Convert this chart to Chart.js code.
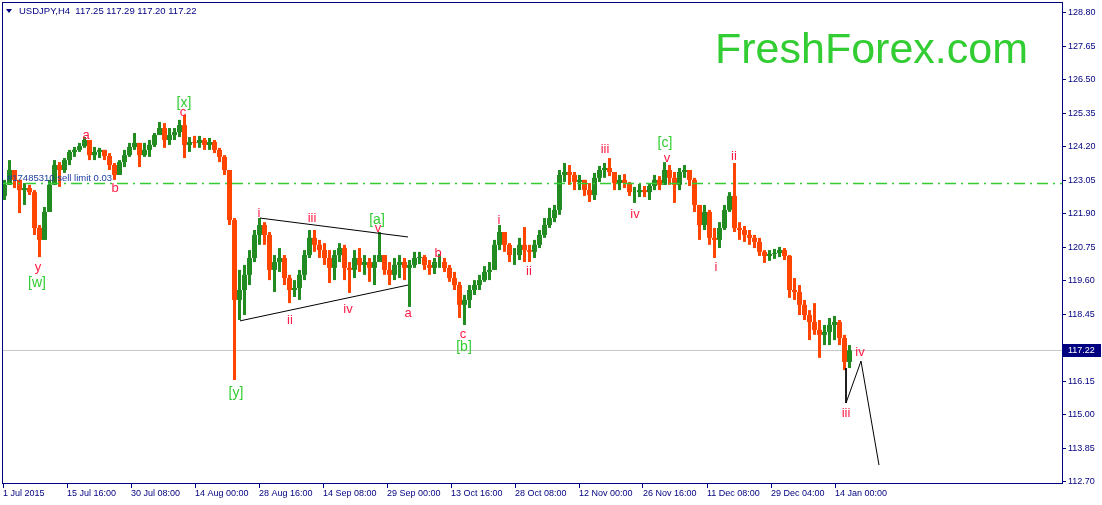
<!DOCTYPE html>
<html>
<head>
<meta charset="utf-8">
<title>USDJPY H4</title>
<script src="https://cdn.jsdelivr.net/npm/chart.js@4.4.1/dist/chart.umd.min.js"></script>
<style>
  html, body { margin: 0; padding: 0; background: #fff; overflow: hidden; }
  canvas { display: block; }
</style>
</head>
<body>
<canvas id="chart" width="1102" height="505"></canvas>
<script>
const NAVY = "#000080";
const UP = "#228B22";
const DOWN = "#FF4500";
const FONT = "'Liberation Sans', Arial, sans-serif";

// one candle = 5 H4 bars
const firstOpen = 122.52;
const highs = [
  123.07, 123.75, 123.31, 123.07, 122.96, 122.90, 122.72, 121.52, 122.14, 123.07,
  123.75, 123.68, 123.82, 124.10, 124.20, 124.34, 124.54, 124.44, 124.20, 124.17,
  124.10, 123.99, 123.65, 123.75, 124.10, 124.34, 124.68, 124.27, 124.34, 124.44,
  124.68, 125.06, 125.02, 124.85, 124.85, 125.13, 125.30, 124.54, 124.58, 124.58,
  124.51, 124.51, 124.44, 124.17, 123.92, 123.34, 121.76, 119.98, 120.15, 120.66,
  121.35, 121.76, 121.62, 121.28, 120.49, 120.73, 120.49, 119.81, 119.63, 119.98,
  120.66, 121.35, 121.35, 121.01, 120.90, 120.66, 120.66, 120.90, 120.84, 120.25,
  120.66, 120.73, 120.49, 120.39, 120.49, 121.28, 120.49, 120.25, 120.39, 120.49,
  120.39, 120.32, 120.60, 120.60, 120.49, 120.32, 120.39, 120.53, 120.39, 120.15,
  119.91, 119.57, 119.12, 119.46, 119.63, 119.81, 120.11, 120.25, 121.01, 121.52,
  121.28, 120.90, 120.73, 121.08, 121.45, 120.84, 121.01, 121.35, 121.76, 122.11,
  122.21, 123.41, 123.65, 123.58, 123.34, 123.24, 123.07, 122.96, 123.31, 123.55,
  123.65, 123.82, 123.34, 123.24, 123.27, 123.00, 122.83, 122.93, 122.86, 122.93,
  123.24, 123.20, 123.68, 123.58, 123.34, 123.48, 123.58, 123.41, 123.14, 122.21,
  122.21, 122.04, 121.42, 121.62, 122.21, 122.65, 123.65, 121.62, 121.49, 121.35,
  121.18, 121.08, 120.66, 120.66, 120.70, 120.77, 120.73, 120.49, 119.70, 119.46,
  118.95, 118.60, 118.84, 118.26, 118.09, 118.33, 118.40, 118.26, 117.75, 117.40
];
const lows = [
  122.38, 122.90, 122.79, 121.93, 122.21, 122.55, 121.18, 120.42, 121.01, 121.97,
  123.00, 122.83, 123.31, 123.58, 123.86, 124.03, 124.17, 123.75, 123.75, 123.82,
  123.75, 123.41, 123.07, 123.34, 123.51, 123.86, 124.10, 123.51, 123.86, 123.86,
  124.20, 124.61, 124.17, 124.27, 124.44, 124.54, 123.82, 124.03, 124.17, 124.17,
  124.10, 124.10, 123.99, 123.68, 123.24, 121.52, 116.20, 118.26, 118.43, 119.46,
  120.25, 120.84, 120.84, 119.63, 119.22, 119.91, 119.46, 118.84, 119.05, 118.95,
  119.63, 120.39, 120.60, 120.39, 120.15, 119.53, 119.63, 120.25, 119.63, 119.19,
  119.70, 119.91, 119.81, 119.57, 119.46, 120.25, 119.81, 119.46, 119.63, 119.70,
  119.63, 118.71, 120.05, 120.18, 119.98, 119.81, 119.84, 120.05, 119.91, 119.57,
  119.29, 118.33, 118.09, 118.67, 119.12, 119.29, 119.57, 119.63, 119.98, 120.66,
  120.60, 120.25, 120.15, 120.32, 120.25, 120.25, 120.39, 120.73, 121.08, 121.42,
  121.62, 121.87, 123.00, 122.90, 122.72, 122.72, 122.52, 122.31, 122.38, 123.00,
  123.14, 123.20, 122.72, 122.72, 122.79, 122.52, 122.28, 122.48, 122.48, 122.38,
  122.72, 122.72, 122.90, 122.90, 122.28, 122.72, 123.14, 122.86, 121.97, 121.01,
  121.35, 120.84, 120.39, 120.73, 121.35, 121.97, 121.28, 121.01, 120.94, 120.84,
  120.73, 120.46, 120.22, 120.29, 120.36, 120.42, 120.32, 119.02, 118.95, 118.43,
  118.26, 117.57, 117.75, 116.96, 117.40, 117.40, 117.57, 117.40, 116.54, 116.61
];
const closes = [
  122.90, 123.41, 123.07, 122.72, 122.79, 122.65, 121.42, 121.01, 121.97, 122.90,
  123.58, 123.41, 123.75, 124.03, 124.10, 124.23, 124.44, 123.92, 124.03, 124.10,
  123.89, 123.58, 123.24, 123.68, 123.92, 124.20, 124.34, 123.92, 124.10, 124.27,
  124.61, 124.85, 124.44, 124.61, 124.71, 124.95, 124.27, 124.37, 124.34, 124.44,
  124.27, 124.37, 124.10, 123.86, 123.41, 121.69, 118.95, 119.29, 119.81, 120.39,
  121.18, 121.52, 121.18, 119.98, 120.25, 120.39, 119.70, 119.29, 119.36, 119.81,
  120.49, 121.08, 120.84, 120.66, 120.39, 120.05, 120.49, 120.73, 120.05, 119.98,
  120.39, 120.15, 120.25, 120.05, 120.25, 120.49, 119.98, 119.81, 120.15, 120.25,
  120.05, 120.15, 120.39, 120.42, 120.15, 120.05, 120.25, 120.25, 120.05, 119.70,
  119.46, 118.78, 118.95, 119.29, 119.46, 119.63, 119.91, 119.98, 120.84, 121.28,
  120.84, 120.49, 120.49, 120.84, 120.66, 120.60, 120.84, 121.18, 121.52, 121.76,
  122.04, 123.24, 123.34, 123.24, 123.00, 123.07, 122.72, 122.55, 123.14, 123.41,
  123.48, 123.34, 122.96, 123.07, 122.96, 122.65, 122.65, 122.72, 122.65, 122.86,
  123.07, 122.90, 123.41, 123.14, 122.90, 123.34, 123.41, 123.07, 122.21, 121.52,
  121.97, 121.08, 121.01, 121.42, 122.04, 122.52, 121.42, 121.35, 121.18, 121.08,
  120.94, 120.60, 120.46, 120.53, 120.56, 120.66, 120.46, 119.29, 119.22, 118.78,
  118.43, 118.19, 117.92, 117.75, 117.85, 118.09, 118.19, 117.64, 116.82, 117.22
];

const lastPrice = 117.22;
const sellLimit = 122.98;
const quote = "USDJPY,H4  117.25 117.29 117.20 117.22";

const timeLabels = ["1 Jul 2015", "15 Jul 16:00", "30 Jul 08:00", "14 Aug 00:00", "28 Aug 16:00",
  "14 Sep 08:00", "29 Sep 00:00", "13 Oct 16:00", "28 Oct 08:00", "12 Nov 00:00",
  "26 Nov 16:00", "11 Dec 08:00", "29 Dec 04:00", "14 Jan 00:00"];
const priceTicks = [128.80, 127.65, 126.50, 125.35, 124.20, 123.05, 121.90, 120.75,
  119.60, 118.45, 116.15, 115.00, 113.85, 112.70];

// wave marks: candle index and price
const waveLabels = [
  {text: "y", at: 6.7, price: 120.05},
  {text: "[w]", at: 6.5, price: 119.53, major: true},
  {text: "a", at: 16.3, price: 124.58},
  {text: "b", at: 22.1, price: 122.76},
  {text: "[x]", at: 35.9, price: 125.71, major: true},
  {text: "c", at: 35.7, price: 125.37},
  {text: "[y]", at: 46.3, price: 115.75, major: true},
  {text: "i", at: 50.9, price: 121.93},
  {text: "ii", at: 57.1, price: 118.26},
  {text: "iii", at: 61.5, price: 121.76},
  {text: "iv", at: 68.7, price: 118.64},
  {text: "[a]", at: 74.5, price: 121.69, major: true},
  {text: "v", at: 74.7, price: 121.39},
  {text: "a", at: 80.7, price: 118.47},
  {text: "b", at: 86.7, price: 120.53},
  {text: "c", at: 91.7, price: 117.78},
  {text: "[b]", at: 91.9, price: 117.33, major: true},
  {text: "i", at: 98.9, price: 121.69},
  {text: "ii", at: 104.9, price: 119.94},
  {text: "iii", at: 120.1, price: 124.10},
  {text: "iv", at: 126.1, price: 121.87},
  {text: "[c]", at: 132.1, price: 124.34, major: true},
  {text: "v", at: 132.5, price: 123.82},
  {text: "i", at: 142.3, price: 120.05},
  {text: "ii", at: 145.9, price: 123.89},
  {text: "iii", at: 168.3, price: 115.07},
  {text: "iv", at: 171.1, price: 117.13}
];

const triangleTop = [{x: 51.1, y: 121.76}, {x: 80.7, y: 121.11}];
const triangleBottom = [{x: 47.1, y: 118.23}, {x: 80.7, y: 119.46}];
const forecast = [{x: 168.3, y: 116.61}, {x: 168.3, y: 115.41}, {x: 171.3, y: 116.85}, {x: 174.9, y: 113.28}];

const opens = closes.map((c, i) => i === 0 ? firstOpen : closes[i - 1]);
const barsPerLabel = 64 / 5;
const timeTicks = timeLabels.map((_, k) => -0.3 + k * barsPerLabel);

function candleColor(ctx) {
  const i = ctx.dataIndex;
  if (i === undefined) return UP;
  return closes[i] >= opens[i] ? UP : DOWN;
}

const wicks = closes.map((c, i) => ({x: i, y: [Math.min(lows[i], opens[i], c), Math.max(highs[i], opens[i], c)]}));
const bodies = closes.map((c, i) => ({x: i, y: [opens[i], c]}));

function lineSet(data) {
  return {type: "line", data, borderColor: "#000", borderWidth: 1, pointRadius: 0, fill: false, tension: 0, order: 0};
}

const overlay = {
  id: "overlay",
  beforeDatasetsDraw(chart) {
    const {ctx, chartArea: a, scales: {y}} = chart;
    ctx.save();
    const py = Math.round(y.getPixelForValue(lastPrice)) + 0.5;
    ctx.strokeStyle = "#c8c8c8";
    ctx.lineWidth = 1;
    ctx.beginPath();
    ctx.moveTo(a.left, py);
    ctx.lineTo(a.right, py);
    ctx.stroke();
    ctx.restore();
  },
  afterDatasetsDraw(chart) {
    const {ctx, chartArea: a, scales: {x, y}} = chart;
    ctx.save();
    // pending order line
    const sy = Math.round(y.getPixelForValue(sellLimit)) + 0.5;
    ctx.strokeStyle = "#33CC33";
    ctx.lineWidth = 1.3;
    ctx.setLineDash([11, 5, 2, 5]);
    ctx.beginPath();
    ctx.moveTo(a.left, sy);
    ctx.lineTo(a.right, sy);
    ctx.stroke();
    ctx.setLineDash([]);
    ctx.font = "9.5px " + FONT;
    ctx.fillStyle = "#2040a0";
    ctx.textAlign = "left";
    ctx.textBaseline = "alphabetic";
    ctx.fillText("#17485310 sell limit 0.03", a.left + 5, sy - 2.5);

    ctx.textAlign = "center";
    ctx.textBaseline = "middle";
    waveLabels.forEach(w => {
      ctx.font = (w.major ? "14px " : "13px ") + FONT;
      ctx.fillStyle = w.major ? "#32CD32" : "#FF1A45";
      ctx.fillText(w.text, x.getPixelForValue(w.at), y.getPixelForValue(w.price));
    });
    ctx.restore();
  },
  afterDraw(chart) {
    const {ctx, chartArea: a, scales: {y}} = chart;
    ctx.save();
    ctx.strokeStyle = NAVY;
    ctx.lineWidth = 1;
    ctx.strokeRect(a.left + 0.5, a.top + 0.5, a.right - a.left, a.bottom - a.top - 1);

    // header
    ctx.fillStyle = NAVY;
    ctx.beginPath();
    ctx.moveTo(6, 9);
    ctx.lineTo(12, 9);
    ctx.lineTo(9, 13);
    ctx.closePath();
    ctx.fill();
    ctx.font = "9.5px " + FONT;
    ctx.textAlign = "left";
    ctx.textBaseline = "alphabetic";
    ctx.fillText(quote, 19, 14);

    // current price box
    const py = Math.round(y.getPixelForValue(lastPrice));
    ctx.fillStyle = NAVY;
    ctx.fillRect(a.right + 1, py - 6, 38, 13);
    ctx.fillStyle = "#fff";
    ctx.font = "9px " + FONT;
    ctx.textBaseline = "middle";
    ctx.fillText(lastPrice.toFixed(2), a.right + 6, py + 0.5);

    // watermark
    ctx.fillStyle = "#32CD32";
    ctx.font = "43px " + FONT;
    ctx.textBaseline = "alphabetic";
    ctx.fillText("FreshForex.com", 715, 63);
    ctx.restore();
  }
};

new Chart(document.getElementById("chart"), {
  type: "bar",
  data: {
    datasets: [
      {data: bodies, backgroundColor: candleColor, barThickness: 5, grouped: false, borderWidth: 0, inflateAmount: 0, order: 1},
      {data: wicks, backgroundColor: candleColor, barThickness: 3, grouped: false, borderWidth: 0, inflateAmount: 0, order: 2},
      lineSet(triangleTop),
      lineSet(triangleBottom),
      lineSet(forecast)
    ]
  },
  options: {
    responsive: false,
    animation: false,
    events: [],
    layout: {padding: {left: 2, top: 2, right: 0, bottom: 0}},
    plugins: {legend: {display: false}, tooltip: {enabled: false}},
    scales: {
      x: {
        type: "linear", min: -0.5, max: 211.5, offset: false,
        grid: {offset: false, drawOnChartArea: false, drawTicks: true, tickLength: 4, color: NAVY, tickColor: NAVY},
        border: {display: false},
        ticks: {autoSkip: false, maxRotation: 0, align: "start", padding: 0, color: NAVY,
          font: {family: FONT, size: 9}, callback: (v, i) => timeLabels[i]},
        afterBuildTicks: s => { s.ticks = timeTicks.map(v => ({value: v})); },
        afterFit: s => { s.height = 21; s.paddingLeft = 0; s.paddingRight = 0; }
      },
      y: {
        type: "linear", position: "right", min: 112.63, max: 129.177,
        grid: {drawOnChartArea: false, drawTicks: true, tickLength: 4, color: NAVY, tickColor: NAVY},
        border: {display: false},
        ticks: {padding: 2, color: NAVY, font: {family: FONT, size: 9}, callback: v => v.toFixed(2)},
        afterBuildTicks: s => { s.ticks = priceTicks.map(v => ({value: v})); },
        afterFit: s => { s.width = 40; s.paddingTop = 0; s.paddingBottom = 0; }
      }
    }
  },
  plugins: [overlay]
});
</script>
</body>
</html>
